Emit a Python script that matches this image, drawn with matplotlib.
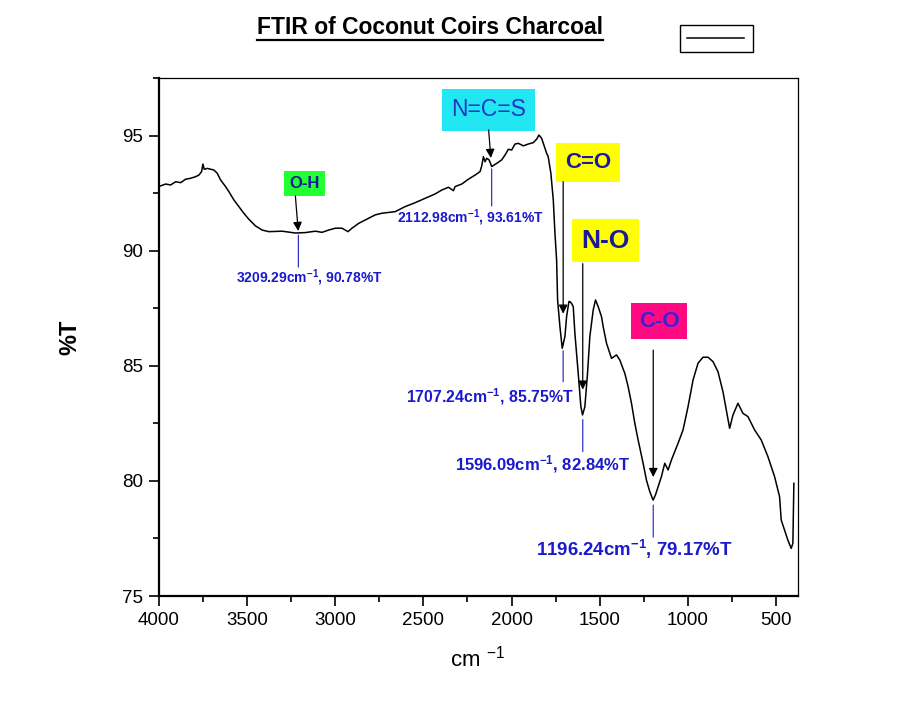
"""
FTIR spectrum of coconut coir charcoal with labelled absorption bands.
"""

# -----------------------------------------------------------------------------
# imports

import matplotlib
matplotlib.use('Agg')
import matplotlib.pyplot as plt
from matplotlib.lines import Line2D

# -----------------------------------------------------------------------------
# data

wavenumber = [
    3990.5, 3962.2, 3933.9, 3905.6, 3877.3, 3849.0, 3820.7, 3792.4, 3773.5, 3758.4,
    3750.9, 3743.3, 3726.3, 3688.6, 3669.7, 3650.8, 3622.5, 3603.6, 3575.3, 3547.0,
    3518.7, 3490.4, 3452.6, 3414.9, 3377.1, 3301.6, 3226.1, 3169.5, 3112.9, 3075.1,
    3037.4, 2999.6, 2961.9, 2927.9, 2905.3, 2867.5, 2829.7, 2773.1, 2735.4, 2659.9,
    2603.3, 2546.6, 2490.0, 2433.4, 2395.6, 2357.9, 2329.6, 2320.1, 2282.4, 2244.6,
    2206.9, 2178.6, 2169.1, 2159.7, 2150.2, 2140.8, 2127.6, 2112.5, 2084.2, 2055.9,
    2037.0, 2018.2, 1999.3, 1980.4, 1961.5, 1933.2, 1904.9, 1876.6, 1857.7, 1844.5,
    1829.4, 1801.1, 1792.1, 1777.0, 1763.3, 1753.8, 1744.4, 1738.8, 1725.6, 1712.4,
    1697.3, 1687.8, 1674.6, 1669.0, 1659.6, 1650.0, 1640.7, 1621.8, 1606.7, 1597.3,
    1584.1, 1569.0, 1555.8, 1536.9, 1523.7, 1508.5, 1489.6, 1480.2, 1461.3, 1433.0,
    1404.7, 1385.8, 1357.5, 1338.6, 1319.7, 1300.8, 1281.9, 1253.6, 1234.8, 1215.9,
    1197.0, 1183.8, 1168.7, 1149.8, 1130.9, 1112.0, 1093.2, 1055.4, 1027.1, 998.8,
    970.4, 942.1, 913.8, 885.5, 857.2, 828.9, 800.6, 781.7, 762.8, 743.9,
    715.6, 687.3, 659.0, 621.2, 583.5, 545.7, 507.9, 479.6, 470.2, 451.3,
    432.4, 413.5, 404.1, 398.4,
]

transmittance = [
    92.83, 92.91, 92.87, 93.01, 92.97, 93.12, 93.16, 93.23, 93.30, 93.45,
    93.78, 93.55, 93.59, 93.52, 93.38, 93.09, 92.80, 92.58, 92.22, 91.93,
    91.64, 91.38, 91.09, 90.91, 90.84, 90.86, 90.78, 90.80, 90.86, 90.81,
    90.91, 90.99, 90.99, 90.84, 90.99, 91.20, 91.35, 91.57, 91.64, 91.71,
    91.93, 92.10, 92.29, 92.48, 92.65, 92.77, 92.62, 92.80, 92.91, 93.12,
    93.30, 93.45, 93.70, 94.10, 93.88, 94.03, 93.96, 93.67, 93.81, 93.96,
    94.17, 94.42, 94.39, 94.65, 94.68, 94.57, 94.65, 94.71, 94.86, 95.04,
    94.90, 94.25, 94.10, 93.38, 92.22, 90.77, 89.61, 87.87, 86.71, 85.77,
    86.28, 87.14, 87.80, 87.80, 87.72, 87.58, 86.42, 84.68, 83.23, 82.87,
    83.23, 84.68, 86.28, 87.43, 87.87, 87.58, 87.14, 86.71, 85.99, 85.33,
    85.48, 85.26, 84.68, 84.10, 83.38, 82.51, 81.78, 80.77, 80.04, 79.54,
    79.17, 79.39, 79.75, 80.19, 80.77, 80.48, 80.91, 81.64, 82.22, 83.23,
    84.39, 85.12, 85.38, 85.38, 85.19, 84.75, 83.88, 83.09, 82.29, 82.87,
    83.38, 82.94, 82.80, 82.22, 81.78, 81.06, 80.19, 79.32, 78.30, 77.87,
    77.43, 77.07, 77.29, 79.90,
]

# labelled peaks
peak_wn = [3209.29, 2112.98, 1707.24, 1596.09, 1196.24]
peak_t = [90.78, 93.61, 85.75, 82.84, 79.17]
peak_group = ['O-H', 'N=C=S', 'C=O', 'N-O', 'C-O']

x_ticks = [4000, 3500, 3000, 2500, 2000, 1500, 1000, 500]
y_ticks = [75, 80, 85, 90, 95]

# -----------------------------------------------------------------------------
# styling per peak (offsets in pixels from the peak point)

box_style = [
    # face, text colour, size, weight, pad, box offset, arrow start/end, label offset, label size, line
    dict(fc='#22ff33', tc='#1a1a9a', fs=12, fw='bold', pad=0.3,
         box=(6, 50), arr=(37, 2), lab=(11, -45), lfs=10, line=(-2, -34), ax_dx=-3),
    dict(fc='#22e6f2', tc='#2038c8', fs=16.5, fw='normal', pad=0.4,
         box=(-3, 58), arr=(38, 10), lab=(-21, -50), lfs=10, line=(-1, -38), ax_dx=-3),
    dict(fc='#ffff00', tc='#1a1a9a', fs=16, fw='bold', pad=0.4,
         box=(25, 186), arr=(167, 35), lab=(-73, -48), lfs=11.4, line=(-2, -33), ax_dx=0),
    dict(fc='#ffff00', tc='#1a1a9a', fs=19, fw='bold', pad=0.35,
         box=(23, 175), arr=(152, 26), lab=(-40, -48), lfs=12, line=(-4, -36), ax_dx=0),
    dict(fc='#ff0a82', tc='#3a22d8', fs=16, fw='bold', pad=0.35,
         box=(6, 179), arr=(150, 23), lab=(-19, -49), lfs=13.4, line=(-5, -37), ax_dx=0),
]

# -----------------------------------------------------------------------------

plt.rcParams['font.family'] = ['Liberation Sans', 'DejaVu Sans']
plt.rcParams['mathtext.default'] = 'regular'

fig = plt.figure(figsize=(9.2, 7.02), dpi=100)
ax = fig.add_axes([159 / 920, 1 - 596 / 702, 639 / 920, 518 / 702])

line, = ax.plot(wavenumber, transmittance, color='black', lw=1.1)

ax.set_xlim(4000, 387)
ax.set_ylim(75, 97.52)
ax.set_xticks(x_ticks)
ax.set_yticks(y_ticks)
ax.set_xticks([x + 250 for x in x_ticks[1:]] + [375], minor=True)
ax.set_xticks([3750, 3250, 2750, 2250, 1750, 1250, 750], minor=True)
ax.set_yticks([77.5, 82.5, 87.5, 92.5, 97.5], minor=True)
ax.tick_params(which='major', direction='out', length=7.5, width=1.2,
               labelsize=13.5, pad=4)
ax.tick_params(which='minor', direction='out', length=4.5, width=1.2)

for side in ['left', 'bottom']:
    ax.spines[side].set_linewidth(1.6)
for side in ['top', 'right']:
    ax.spines[side].set_linewidth(0.9)

ax.set_xlabel('cm $^{-1}$', fontsize=16)
ax.xaxis.set_label_coords(0.498, -0.095)
ax.set_ylabel('%T', fontsize=17, fontweight='bold')
ax.yaxis.set_label_coords(-0.121, 0.5)

# peak annotations
for wn, t, grp, st in zip(peak_wn, peak_t, peak_group, box_style):
    ax.annotate(grp, xy=(wn, t), xytext=st['box'], textcoords='offset pixels',
                ha='center', va='center', fontsize=st['fs'],
                fontweight=st['fw'], color=st['tc'],
                bbox=dict(boxstyle='square,pad=%.2f' % st['pad'],
                          fc=st['fc'], ec='none'))
    ax.annotate('', xy=(wn, t), xytext=(st['ax_dx'], st['arr'][0]),
                textcoords='offset pixels',
                arrowprops=dict(arrowstyle='-|>', color='black', lw=0.9,
                                mutation_scale=13, shrinkA=0,
                                shrinkB=st['arr'][1] * 0.72))
    ax.annotate('', xy=(wn, t), xytext=(0, st['line'][1]),
                textcoords='offset pixels',
                arrowprops=dict(arrowstyle='-', color='#3333cc', lw=0.9,
                                shrinkA=0, shrinkB=-st['line'][0] * 0.72))
    label = '%.2fcm$^{-1}$, %.2f%%T' % (wn, t)
    ax.annotate(label, xy=(wn, t), xytext=st['lab'], textcoords='offset pixels',
                ha='center', va='center', fontsize=st['lfs'],
                fontweight='bold', color='#1a1acc')

# legend box with the single unlabelled line
fig.legend([line], [''], loc='center', bbox_to_anchor=(716.5 / 920, 1 - 38.5 / 702),
           handlelength=4.1, handletextpad=0.2, borderpad=0.45, fontsize=10,
           fancybox=False, framealpha=1, edgecolor='black')

# title with an underline
title = fig.text(430 / 920, 1 - 27 / 702, 'FTIR of Coconut Coirs Charcoal',
                 ha='center', va='center', fontsize=16.5, fontweight='bold')
fig.canvas.draw()
bb = title.get_window_extent().transformed(fig.transFigure.inverted())
uy = 1 - 39.5 / 702
fig.add_artist(Line2D([bb.x0, bb.x1], [uy, uy], transform=fig.transFigure,
                      color='black', lw=1.6))

fig.savefig('out.png', dpi=100)
